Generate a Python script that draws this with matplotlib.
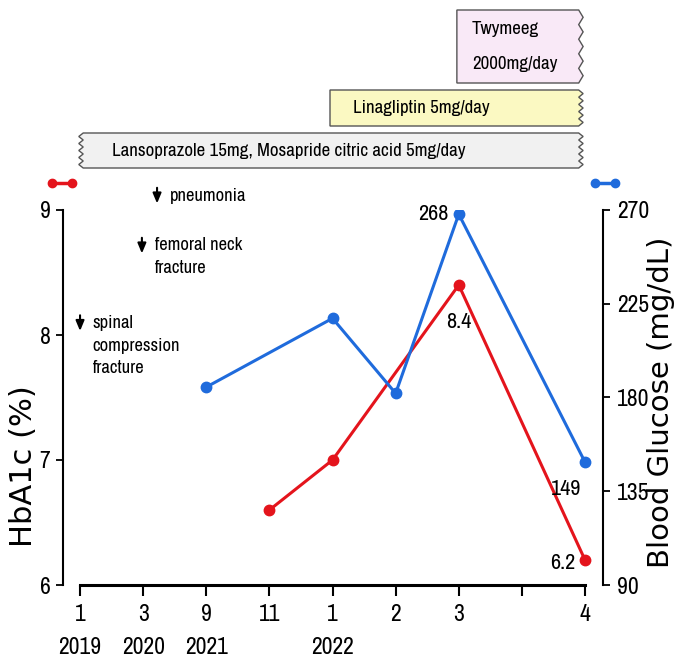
import numpy as np
import matplotlib
matplotlib.use("Agg")
import matplotlib.pyplot as plt
from matplotlib.patches import Polygon
from matplotlib.lines import Line2D

NARROW = ['Archivo Narrow', 'Liberation Sans', 'DejaVu Sans']
WIDE = ['DejaVu Sans']
plt.rcParams['font.family'] = NARROW

# x positions are ordinal visit slots
positions = [0, 1, 2, 3, 4, 5, 6, 7, 8]
month_labels = ['1', '3', '9', '11', '1', '2', '3', '', '4']
year_labels = ['2019', '2020', '2021', '', '2022', '', '', '', '']

hba1c_x = [3, 4, 6, 8]
hba1c = [6.6, 7.0, 8.4, 6.2]
glucose_x = [2, 4, 5, 6, 8]
glucose = [185, 218, 182, 268, 149]

# treatments: name, start, end (slot units), y band (HbA1c units above the axis)
drug_names = ['Lansoprazole 15mg, Mosapride citric acid 5mg/day',
              'Linagliptin 5mg/day', 'Twymeeg\n2000mg/day']
drug_start = [0.05, 3.96, 5.97]
drug_end = [7.9, 7.9, 7.9]
drug_y0 = [9.336, 9.672, 10.016]
drug_y1 = [9.616, 9.96, 10.6]
drug_color = ['#f1f1f1', '#fbf9c2', '#f9e9f7']
drug_zig_left = [True, False, False]

events = ['pneumonia', 'femoral neck\nfracture', 'spinal\ncompression\nfracture']
event_x = [1.22, 0.98, 0.0]
event_y = [9.2, 8.8, 8.18]

RED = '#e4141c'
BLUE = '#1f6bdc'

fig = plt.figure(figsize=(6.74, 6.6), dpi=100)
ax = fig.add_axes([63 / 674, 75 / 660, 540 / 674, 375 / 660])
ax2 = ax.twinx()

ax.set_xlim(-0.27, 8.285)
ax.set_ylim(6, 9)
ax2.set_ylim(90, 270)

ax.plot(hba1c_x, hba1c, color=RED, lw=2.2, marker='o', ms=7.5, zorder=3)
ax2.plot(glucose_x, glucose, color=BLUE, lw=2.2, marker='o', ms=7.5, zorder=3)

for s in ['top', 'right']:
    ax.spines[s].set_visible(False)
for s in ['top', 'left', 'bottom']:
    ax2.spines[s].set_visible(False)
ax.spines['left'].set_bounds(6, 9)
ax.spines['bottom'].set_bounds(0, 8)
ax2.spines['right'].set_bounds(90, 270)
for sp in [ax.spines['left'], ax.spines['bottom'], ax2.spines['right']]:
    sp.set_linewidth(1.5)
ax.spines['bottom'].set_linewidth(2.2)

ax.set_yticks([6, 7, 8, 9])
ax2.set_yticks([90, 135, 180, 225, 270])
ax.set_xticks(positions)
ax.set_xticklabels([m + '\n' + y if y else m for m, y in zip(month_labels, year_labels)],
                   linespacing=1.7, va='top')
ax.tick_params(axis='y', labelsize=17, length=5, width=1.3, pad=4)
ax2.tick_params(axis='y', labelsize=17, length=5, width=1.3, pad=5)
ax.tick_params(axis='x', labelsize=17, length=8, width=1.5, pad=6)

fig.text(24 / 674, 1 - 466 / 660, 'HbA1c (%)', rotation=90, fontsize=22, family=WIDE,
         ha='center', va='center')
fig.text(661 / 674, 1 - 402 / 660, 'Blood Glucose (mg/dL)', rotation=90, fontsize=21,
         family=WIDE, ha='center', va='center')

# value labels
ax2.text(6 - 0.17, 268, '268', fontsize=16, ha='right', va='center')
ax.text(6, 8.4 - 0.22, '8.4', fontsize=16, ha='center', va='top')
ax2.text(8 - 0.3, 149 - 8, '149', fontsize=16, ha='center', va='top')
ax.text(8 - 0.15, 6.18, '6.2', fontsize=16, ha='right', va='center')


def zigzag_bar(x0, x1, y0, y1, left_zig, n=5, amp=0.07):
    ys = np.linspace(y0, y1, 2 * n + 1)
    right = [(x1 + (amp if i % 2 else 0), y) for i, y in enumerate(ys)]
    if left_zig:
        left = [(x0 - (amp if i % 2 else 0), y) for i, y in enumerate(ys[::-1])]
    else:
        left = [(x0, y1), (x0, y0)]
    return [(x0, y0)] + right + left


for name, x0, x1, y0, y1, c, lz in zip(drug_names, drug_start, drug_end, drug_y0,
                                       drug_y1, drug_color, drug_zig_left):
    poly = Polygon(zigzag_bar(x0, x1, y0, y1, lz), closed=True, facecolor=c,
                   edgecolor='#555555', lw=1.0, clip_on=False, zorder=2)
    ax.add_patch(poly)
    tx = x0 + (0.45 if lz else (0.36 if y1 - y0 < 0.4 else 0.24))
    ax.text(tx, (y0 + y1) / 2, name, fontsize=13.6, ha='left', va='center',
            linespacing=2.45, clip_on=False)

for name, x, y in zip(events, event_x, event_y):
    ax.annotate('', xy=(x, y - 0.17), xytext=(x, y),
                arrowprops=dict(arrowstyle='-|>,head_length=0.6,head_width=0.25',
                                color='black', lw=1.5), annotation_clip=False)
    ax.text(x + 0.2, y - 0.02, name, fontsize=13.4, ha='left', va='top', linespacing=1.5)

# series keys above each axis
fig.add_artist(Line2D([52 / 674, 72 / 674], [1 - 183 / 660] * 2, color=RED, lw=2.5,
                      marker='o', ms=6))
fig.add_artist(Line2D([595 / 674, 615 / 674], [1 - 183 / 660] * 2, color=BLUE, lw=2.5,
                      marker='o', ms=6))

fig.savefig('out.png', dpi=100)
